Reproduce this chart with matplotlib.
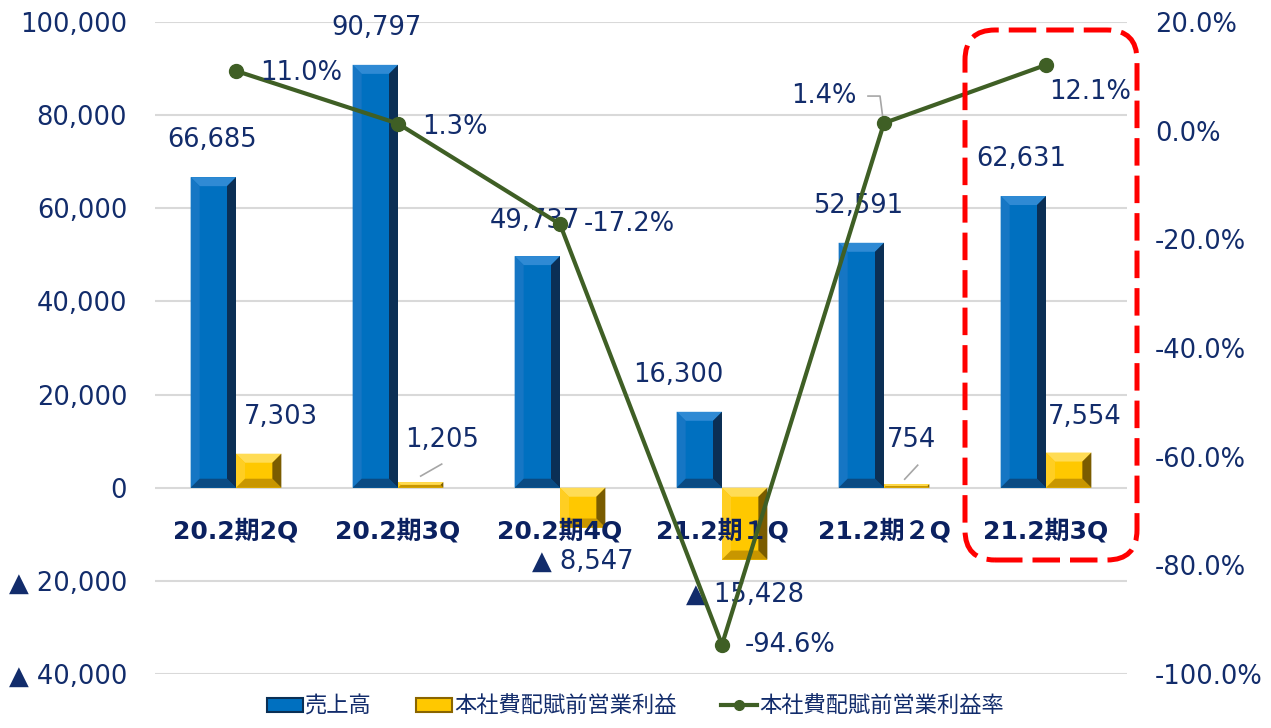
import numpy as np
import matplotlib
matplotlib.use('Agg')
from matplotlib import pyplot as plt
from matplotlib.patches import Polygon, Rectangle, FancyBboxPatch
from matplotlib.lines import Line2D
from matplotlib.transforms import IdentityTransform

plt.rcParams['font.family'] = ['DejaVu Sans', 'Noto Sans CJK JP']

# data
quarters = ['20.2期2Q', '20.2期3Q', '20.2期4Q', '21.2期１Q', '21.2期２Q', '21.2期3Q']
sales = [66685, 90797, 49737, 16300, 52591, 62631]
profit = [7303, 1205, -8547, -15428, 754, 7554]
margin = [11.0, 1.3, -17.2, -94.6, 1.4, 12.1]
legend_names = ['売上高', '本社費配賦前営業利益', '本社費配賦前営業利益率']

NAVY = '#122C6B'
BLUE = '#0070C0'
GOLD = '#FFC800'
GREEN = '#3F5F25'
GRID = '#D9D9D9'


def fmt_num(v):
    if v < 0:
        return '▲ {:,.0f}'.format(-v)
    return '{:,.0f}'.format(v)


def bevel(ax, rect, cols, px=9):
    # fake the 3D bevel look with four trapezoids around the bar face
    T = ax.transData
    x0, y0 = rect.get_x(), rect.get_y()
    w, h = rect.get_width(), rect.get_height()
    X0, Y0 = T.transform((x0, min(y0, y0 + h)))
    X1, Y1 = T.transform((x0 + w, max(y0, y0 + h)))
    b = min(px, (X1 - X0) / 2, (Y1 - Y0) / 2)
    top = [(X0, Y1), (X1, Y1), (X1 - b, Y1 - b), (X0 + b, Y1 - b)]
    bot = [(X0, Y0), (X1, Y0), (X1 - b, Y0 + b), (X0 + b, Y0 + b)]
    lft = [(X0, Y0), (X0 + b, Y0 + b), (X0 + b, Y1 - b), (X0, Y1)]
    rgt = [(X1, Y0), (X1 - b, Y0 + b), (X1 - b, Y1 - b), (X1, Y1)]
    inv = T.inverted()
    for pts, c in zip([top, lft, bot, rgt], cols):
        ax.add_patch(Polygon(inv.transform(pts), closed=True, facecolor=c,
                             edgecolor='none', zorder=3))


fig = plt.figure(figsize=(12.71, 7.28), dpi=100)
ax = fig.add_axes([155 / 1271, 54 / 728, 972 / 1271, 652 / 728])
ax2 = ax.twinx()

x = np.arange(len(quarters))
bw = 0.28
ax.set_xlim(-0.5, 5.5)
ax.set_ylim(-40000, 100000)
ax2.set_ylim(-100, 20)

ax.set_yticks(np.arange(-40000, 100001, 20000))
ax.set_yticklabels([fmt_num(v) for v in np.arange(-40000, 100001, 20000)])
ax2.set_yticks(np.arange(-100, 21, 20))
ax2.set_yticklabels(['{:.1f}%'.format(v) for v in np.arange(-100, 21, 20)])
ax.set_xticks([])

for a in (ax, ax2):
    for s in a.spines.values():
        s.set_visible(False)
    a.tick_params(length=0, labelsize=18.5, labelcolor=NAVY)
ax.tick_params(axis='y', pad=20)
ax2.tick_params(axis='y', pad=20)
ax.grid(axis='y', color=GRID, lw=1.5)
ax.set_axisbelow(True)

bars1 = ax.bar(x - bw / 2, sales, bw, color=BLUE, zorder=2)
bars2 = ax.bar(x + bw / 2, profit, bw, color=GOLD, zorder=2)
for r in bars1:
    bevel(ax, r, ['#2F8AD4', '#1676C4', '#0A4A82', '#0B2F55'])
for r in bars2:
    bevel(ax, r, ['#FFDC55', '#FFCE22', '#C89600', '#7A5C00'])

# category names sit just under the zero line
for xi, q in zip(x, quarters):
    ax.text(xi, -9400, q, ha='center', va='center', fontsize=18,
            fontweight='bold', color='#0B2160', zorder=5)

# sales labels
s_off = [(-1, 37), (1, 37), (-2, 35), (-21, 37), (-3, 37), (-2, 37)]
for xi, v, o in zip(x, sales, s_off):
    ax.annotate(fmt_num(v), (xi - bw / 2, v), xytext=o, textcoords='offset pixels',
                ha='center', va='center', fontsize=18.5, color=NAVY, zorder=6)

# profit labels
p_off = [(22, 37), (21, 42), (0, -34), (0, -35), (5, 44), (16, 36)]
for xi, v, o in zip(x, profit, p_off):
    ax.annotate(fmt_num(v), (xi + bw / 2, v), xytext=o, textcoords='offset pixels',
                ha='center', va='center', fontsize=18.5, color=NAVY, zorder=6)

# leader lines for the tiny profit bars
for i, (a0, a1) in {1: ((0, 6), (21, 18)), 4: ((-2, 5), (11, 19))}.items():
    X0, Y0 = ax.transData.transform((x[i] + bw / 2, profit[i]))
    pts = ax.transData.inverted().transform([(X0 + a0[0], Y0 + a0[1]),
                                             (X0 + a1[0], Y0 + a1[1])])
    ax.plot(pts[:, 0], pts[:, 1], color='#A6A6A6', lw=1.2, zorder=4)

ax2.plot(x, margin, color=GREEN, lw=3, marker='o', markersize=10, zorder=5)

m_off = [(24, -2, 'left'), (24, -3, 'left'), (24, 0, 'left'),
         (23, 0, 'left'), (-28, 27, 'right'), (3, -27, 'left')]
for xi, v, (dx, dy, ha) in zip(x, margin, m_off):
    ax2.annotate('{:.1f}%'.format(v), (xi, v), xytext=(dx, dy),
                 textcoords='offset pixels', ha=ha, va='center',
                 fontsize=18.5, color=NAVY, zorder=6)

# leader for 1.4%
X0, Y0 = ax2.transData.transform((x[4], margin[4]))
pts = ax2.transData.inverted().transform([(X0 - 1, Y0 + 4), (X0 - 4, Y0 + 27),
                                          (X0 - 16, Y0 + 27)])
ax2.plot(pts[:, 0], pts[:, 1], color='#A6A6A6', lw=1.2, zorder=4)

# red dashed highlight around the latest quarter
box = FancyBboxPatch((965, 728 - 560), 172, 530,
                     boxstyle='round,pad=0,rounding_size=30',
                     transform=IdentityTransform(), fill=False,
                     edgecolor='#FF0000', lw=3.6, linestyle=(0, (5.5, 2)), zorder=10)
fig.add_artist(box)

handles = [Rectangle((0, 0), 1, 1, facecolor=BLUE, edgecolor='#0B2F55', lw=1.5),
           Rectangle((0, 0), 1, 1, facecolor=GOLD, edgecolor='#8A6500', lw=1.5),
           Line2D([], [], color=GREEN, lw=3, marker='o', markersize=7)]
fig.legend(handles, legend_names, loc='lower center', bbox_to_anchor=(0.5, -0.012),
           ncol=3, frameon=False, fontsize=16, handlelength=1.6, handleheight=0.6,
           handletextpad=0.1, columnspacing=2.0, labelcolor=NAVY)

fig.savefig('out.png', dpi=100)
